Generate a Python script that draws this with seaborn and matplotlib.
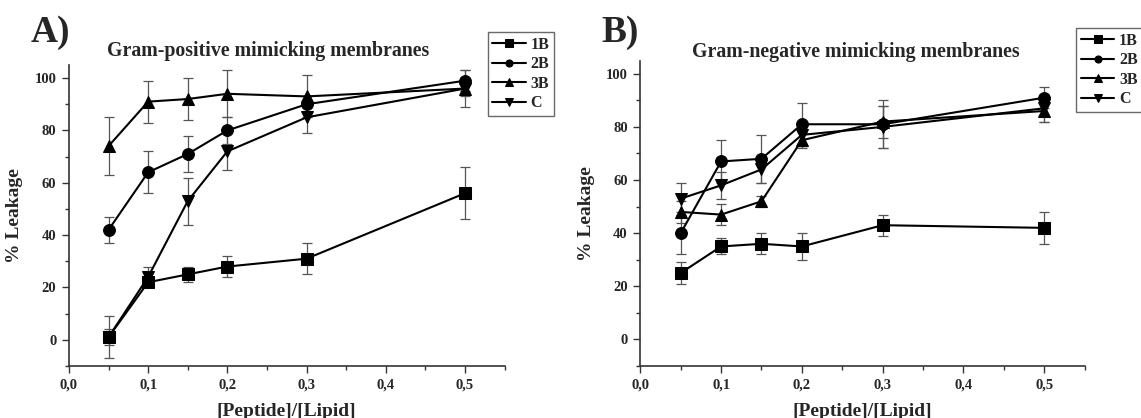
import numpy as np
import pandas as pd
import matplotlib
matplotlib.use("Agg")
import matplotlib.pyplot as plt
import seaborn as sns
from matplotlib.ticker import MultipleLocator, FuncFormatter

# Peptide/lipid ratios
ratios = [0.05, 0.1, 0.15, 0.2, 0.3, 0.5]
series = ["1B", "2B", "3B", "C"]

# Gram-positive mimicking membranes: % leakage and error
pos_1B = [1, 22, 25, 28, 31, 56]
pos_1B_err = [8, 1, 3, 4, 6, 10]
pos_2B = [42, 64, 71, 80, 90, 99]
pos_2B_err = [5, 8, 7, 5, 3, 4]
pos_3B = [74, 91, 92, 94, 93, 96]
pos_3B_err = [11, 8, 8, 9, 8, 3]
pos_C = [1, 24, 53, 72, 85, 96]
pos_C_err = [3, 4, 9, 7, 6, 7]

# Gram-negative mimicking membranes: % leakage and error
neg_1B = [25, 35, 36, 35, 43, 42]
neg_1B_err = [4, 3, 4, 5, 4, 6]
neg_2B = [40, 67, 68, 81, 81, 91]
neg_2B_err = [8, 8, 9, 8, 9, 4]
neg_3B = [48, 47, 52, 75, 82, 86]
neg_3B_err = [4, 4, 2, 3, 6, 4]
neg_C = [53, 58, 64, 77, 80, 87]
neg_C_err = [6, 5, 5, 4, 8, 5]

panel_titles = ["Gram-positive mimicking membranes", "Gram-negative mimicking membranes"]
panel_letters = ["A)", "B)"]

markers = {"1B": "s", "2B": "o", "3B": "^", "C": "v"}


def build_frame(vals, errs):
    rows = []
    for name, v, e in zip(series, vals, errs):
        for r, y, ye in zip(ratios, v, e):
            rows.append({"ratio": r, "leakage": y, "err": ye, "peptide": name})
    return pd.DataFrame(rows)


df_pos = build_frame([pos_1B, pos_2B, pos_3B, pos_C],
                     [pos_1B_err, pos_2B_err, pos_3B_err, pos_C_err])
df_neg = build_frame([neg_1B, neg_2B, neg_3B, neg_C],
                     [neg_1B_err, neg_2B_err, neg_3B_err, neg_C_err])

sns.set_theme(style="ticks")
plt.rcParams["font.family"] = ["Liberation Serif", "DejaVu Serif"]
plt.rcParams["font.weight"] = "bold"
plt.rcParams["axes.labelweight"] = "bold"

W, H = 1141, 418
fig = plt.figure(figsize=(W / 100, H / 100), dpi=100)
ax_a = fig.add_axes([68.9 / W, 1 - 366 / H, 435.7 / W, 301 / H])
ax_b = fig.add_axes([640.3 / W, 1 - 366 / H, 444.3 / W, 305.5 / H])

legend_anchor = [(487.5 / W, 1 - 32 / H), (1076 / W, 1 - 28 / H)]
letter_pos = [(31 / W, 1 - 42 / H), (601 / W, 1 - 42 / H)]
title_pos = [(268.5 / W, 1 - 56 / H), (855.5 / W, 1 - 57 / H)]

for ax, df, title, letter, anchor, lpos, tpos in zip(
        [ax_a, ax_b], [df_pos, df_neg], panel_titles, panel_letters,
        legend_anchor, letter_pos, title_pos):
    # error bars underneath the lines
    for name in series:
        sub = df[df.peptide == name]
        ax.errorbar(sub.ratio, sub.leakage, yerr=sub.err, fmt="none",
                    ecolor="#555555", elinewidth=0.9, capsize=3.5,
                    capthick=0.9, zorder=1)
    sns.lineplot(data=df, x="ratio", y="leakage", hue="peptide",
                 style="peptide", markers=markers, dashes=False,
                 palette=["black"] * 4, markersize=8.5, linewidth=1.5,
                 markeredgecolor="black", ax=ax, zorder=3, legend=True)

    ax.set_xlim(0, 0.55)
    ax.set_ylim(-10, 105)
    ax.xaxis.set_major_locator(MultipleLocator(0.1))
    ax.xaxis.set_minor_locator(MultipleLocator(0.05))
    ax.yaxis.set_major_locator(MultipleLocator(20))
    ax.yaxis.set_minor_locator(MultipleLocator(10))
    ax.xaxis.set_major_formatter(FuncFormatter(lambda v, p: f"{v:.1f}".replace(".", ",")))
    ax.tick_params(axis="both", which="major", length=5, width=1.0,
                   labelsize=10.5, color="#333333", direction="out", pad=4)
    ax.tick_params(axis="both", which="minor", length=3, width=1.0,
                   color="#333333", direction="out")
    for lab in ax.get_xticklabels() + ax.get_yticklabels():
        lab.set_fontweight("bold")
    sns.despine(ax=ax)
    for sp in ["left", "bottom"]:
        ax.spines[sp].set_linewidth(1.2)
        ax.spines[sp].set_color("#333333")

    ax.set_xlabel("[Peptide]/[Lipid]", fontsize=14, fontweight="bold", labelpad=8)
    ax.set_ylabel("% Leakage", fontsize=14, fontweight="bold", labelpad=8)
    fig.text(tpos[0], tpos[1], title, fontsize=14.3, fontweight="bold",
             ha="center", va="baseline")

    handles, labels = ax.get_legend_handles_labels()
    ax.get_legend().remove()
    leg = fig.legend(handles, labels, loc="upper left", bbox_to_anchor=anchor,
                     frameon=True, fancybox=False, edgecolor="#444444",
                     fontsize=11.5, handlelength=2.1, handletextpad=0.3,
                     labelspacing=0.22, borderpad=0.3, markerscale=0.6,
                     borderaxespad=0)
    leg.get_frame().set_linewidth(1.0)
    for t in leg.get_texts():
        t.set_fontweight("bold")

    fig.text(lpos[0], lpos[1], letter, fontsize=27, fontweight="bold")

fig.savefig("out.png", dpi=100)
